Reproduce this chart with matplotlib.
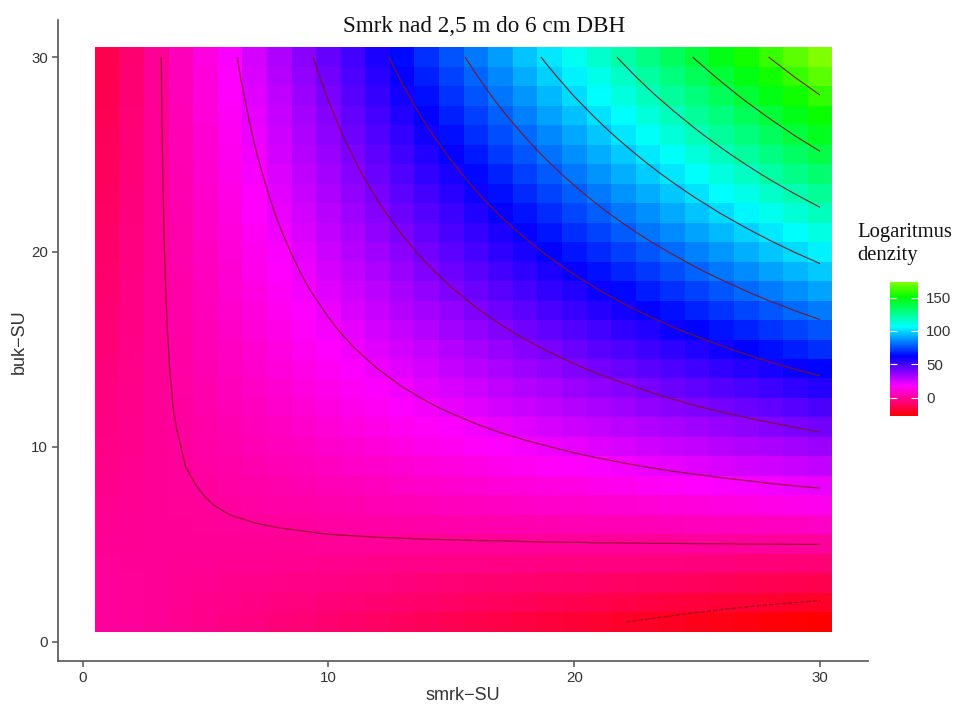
import numpy as np
import matplotlib
matplotlib.use("Agg")
import matplotlib.pyplot as plt
from matplotlib.colors import LinearSegmentedColormap

smrk = list(range(1, 31))
buk = list(range(1, 31))

# logaritmus denzity, rows = buk 1..30, columns = smrk 1..30
z_rows = [
    [-0.1, -0.3, -1.3, -2.3, -3.3, -4.2, -5.2, -6.2, -7.2, -8.1, -9.1, -10.1, -11.1, -12.0, -13.0, -14.0, -15.0, -16.0, -16.9, -17.9, -18.9, -19.9, -20.8, -21.8, -22.8, -23.8, -24.7, -25.7, -26.7, -27.7],
    [-0.2, -0.6, -1.3, -2.0, -2.7, -3.5, -4.2, -4.9, -5.6, -6.3, -7.1, -7.8, -8.5, -9.2, -9.9, -10.7, -11.4, -12.1, -12.8, -13.5, -14.3, -15.0, -15.7, -16.4, -17.1, -17.9, -18.6, -19.3, -20.0, -20.7],
    [-0.4, -0.8, -1.3, -1.8, -2.2, -2.7, -3.2, -3.6, -4.1, -4.5, -5.0, -5.5, -5.9, -6.4, -6.9, -7.3, -7.8, -8.2, -8.7, -9.2, -9.6, -10.1, -10.6, -11.0, -11.5, -12.0, -12.4, -12.9, -13.3, -13.8],
    [-0.9, -1.1, -1.3, -1.5, -1.7, -1.9, -2.1, -2.3, -2.5, -2.7, -2.9, -3.2, -3.4, -3.6, -3.8, -4.0, -4.2, -4.4, -4.6, -4.8, -5.0, -5.2, -5.4, -5.6, -5.8, -6.0, -6.2, -6.4, -6.7, -6.9],
    [-1.4, -1.4, -1.3, -1.2, -1.2, -1.1, -1.1, -1.0, -1.0, -0.9, -0.9, -0.8, -0.8, -0.7, -0.7, -0.6, -0.6, -0.5, -0.4, -0.4, -0.3, -0.3, -0.2, -0.2, -0.1, -0.1, 0.0, 0.0, 0.1, 0.1],
    [-1.9, -1.6, -1.3, -1.0, -0.7, -0.4, -0.1, 0.2, 0.5, 0.9, 1.2, 1.5, 1.8, 2.1, 2.4, 2.7, 3.0, 3.3, 3.6, 3.9, 4.2, 4.5, 4.9, 5.2, 5.5, 5.8, 6.1, 6.4, 6.7, 7.0],
    [-2.4, -1.9, -1.3, -0.7, -0.2, 0.4, 1.0, 1.5, 2.1, 2.7, 3.2, 3.8, 4.4, 4.9, 5.5, 6.0, 6.6, 7.2, 7.7, 8.3, 8.9, 9.4, 10.0, 10.6, 11.1, 11.7, 12.3, 12.8, 13.4, 14.0],
    [-2.9, -2.1, -1.3, -0.5, 0.3, 1.2, 2.0, 2.8, 3.6, 4.5, 5.3, 6.1, 6.9, 7.7, 8.6, 9.4, 10.2, 11.0, 11.9, 12.7, 13.5, 14.3, 15.2, 16.0, 16.8, 17.6, 18.4, 19.3, 20.1, 20.9],
    [-3.5, -2.4, -1.3, -0.2, 0.9, 1.9, 3.0, 4.1, 5.2, 6.3, 7.3, 8.4, 9.5, 10.6, 11.6, 12.7, 13.8, 14.9, 16.0, 17.0, 18.1, 19.2, 20.3, 21.4, 22.4, 23.5, 24.6, 25.7, 26.8, 27.8],
    [-4.0, -2.6, -1.3, 0.0, 1.4, 2.7, 4.0, 5.4, 6.7, 8.1, 9.4, 10.7, 12.1, 13.4, 14.7, 16.1, 17.4, 18.7, 20.0, 21.4, 22.7, 24.0, 25.4, 26.7, 28.0, 29.4, 30.7, 32.1, 33.4, 34.8],
    [-4.5, -2.9, -1.3, 0.3, 1.9, 3.5, 5.1, 6.7, 8.3, 9.9, 11.4, 13.0, 14.6, 16.2, 17.8, 19.4, 21.0, 22.6, 24.2, 25.8, 27.4, 29.0, 30.5, 32.1, 33.7, 35.3, 36.9, 38.5, 40.1, 41.7],
    [-5.0, -3.2, -1.3, 0.6, 2.4, 4.3, 6.1, 8.0, 9.8, 11.7, 13.5, 15.4, 17.2, 19.1, 20.9, 22.8, 24.6, 26.5, 28.3, 30.2, 32.0, 33.9, 35.8, 37.6, 39.5, 41.3, 43.2, 45.0, 46.9, 48.7],
    [-5.5, -3.4, -1.3, 0.8, 2.9, 5.0, 7.1, 9.2, 11.3, 13.5, 15.6, 17.7, 19.8, 21.9, 24.0, 26.1, 28.2, 30.3, 32.4, 34.5, 36.6, 38.7, 40.8, 43.0, 45.1, 47.2, 49.3, 51.4, 53.5, 55.6],
    [-6.0, -3.7, -1.3, 1.1, 3.4, 5.8, 8.2, 10.5, 12.9, 15.2, 17.6, 20.0, 22.4, 24.7, 27.1, 29.5, 31.8, 34.2, 36.6, 38.9, 41.3, 43.6, 46.0, 48.4, 50.7, 53.1, 55.5, 57.9, 60.2, 62.5],
    [-6.5, -3.9, -1.3, 1.3, 3.9, 6.6, 9.2, 11.8, 14.4, 17.0, 19.7, 22.3, 24.9, 27.5, 30.2, 32.8, 35.4, 38.0, 40.6, 43.2, 45.9, 48.5, 51.1, 53.7, 56.3, 59.0, 61.6, 64.2, 66.8, 69.5],
    [-7.1, -4.2, -1.3, 1.6, 4.5, 7.3, 10.2, 13.1, 16.0, 18.9, 21.7, 24.6, 27.5, 30.4, 33.3, 36.1, 39.0, 41.9, 44.8, 47.7, 50.5, 53.4, 56.3, 59.2, 62.0, 64.9, 67.8, 70.7, 73.6, 76.4],
    [-7.6, -4.4, -1.3, 1.8, 5.0, 8.1, 11.2, 14.4, 17.5, 20.6, 23.8, 26.9, 30.1, 33.2, 36.3, 39.5, 42.6, 45.7, 48.9, 52.0, 55.1, 58.3, 61.4, 64.5, 67.7, 70.8, 74.0, 77.1, 80.2, 83.3],
    [-8.1, -4.7, -1.3, 2.1, 5.5, 8.9, 12.3, 15.7, 19.1, 22.4, 25.8, 29.2, 32.6, 36.0, 39.4, 42.8, 46.2, 49.6, 53.0, 56.4, 59.8, 63.1, 66.5, 69.9, 73.3, 76.7, 80.1, 83.5, 86.9, 90.3],
    [-8.6, -4.9, -1.3, 2.3, 6.0, 9.6, 13.3, 16.9, 20.6, 24.2, 27.9, 31.5, 35.2, 38.8, 42.5, 46.1, 49.8, 53.4, 57.1, 60.7, 64.4, 68.0, 71.7, 75.3, 79.0, 82.6, 86.3, 89.9, 93.6, 97.2],
    [-9.1, -5.2, -1.3, 2.6, 6.5, 10.4, 14.3, 18.2, 22.1, 26.0, 30.0, 33.9, 37.8, 41.7, 45.6, 49.5, 53.4, 57.3, 61.2, 65.1, 69.0, 72.9, 76.8, 80.7, 84.6, 88.5, 92.4, 96.4, 100.3, 104.2],
    [-9.6, -5.5, -1.3, 2.9, 7.0, 11.2, 15.4, 19.5, 23.7, 27.8, 32.0, 36.2, 40.3, 44.5, 48.7, 52.8, 57.0, 61.1, 65.3, 69.5, 73.6, 77.8, 82.0, 86.1, 90.3, 94.4, 98.6, 102.8, 106.9, 111.1],
    [-10.1, -5.7, -1.3, 3.1, 7.5, 12.0, 16.4, 20.8, 25.2, 29.6, 34.1, 38.5, 42.9, 47.3, 51.7, 56.2, 60.6, 65.0, 69.4, 73.8, 78.3, 82.7, 87.1, 91.5, 95.9, 100.4, 104.8, 109.2, 113.6, 118.0],
    [-10.7, -6.0, -1.3, 3.4, 8.1, 12.7, 17.4, 22.1, 26.8, 31.4, 36.1, 40.8, 45.5, 50.1, 54.8, 59.5, 64.2, 68.9, 73.5, 78.2, 82.9, 87.6, 92.2, 96.9, 101.6, 106.3, 110.9, 115.6, 120.3, 125.0],
    [-11.2, -6.2, -1.3, 3.6, 8.6, 13.5, 18.4, 23.4, 28.3, 33.2, 38.2, 43.1, 48.0, 53.0, 57.9, 62.8, 67.8, 72.7, 77.6, 82.6, 87.5, 92.4, 97.4, 102.3, 107.2, 112.2, 117.1, 122.1, 127.0, 131.9],
    [-11.7, -6.5, -1.3, 3.9, 9.1, 14.3, 19.5, 24.7, 29.8, 35.0, 40.2, 45.4, 50.6, 55.8, 61.0, 66.2, 71.4, 76.6, 81.8, 87.0, 92.1, 97.3, 102.5, 107.7, 112.9, 118.1, 123.3, 128.5, 133.7, 138.9],
    [-12.2, -6.7, -1.3, 4.1, 9.6, 15.0, 20.5, 25.9, 31.4, 36.8, 42.3, 47.7, 53.2, 58.6, 64.1, 69.5, 75.0, 80.4, 85.9, 91.3, 96.8, 102.2, 107.7, 113.1, 118.6, 124.0, 129.5, 134.9, 140.4, 145.8],
    [-12.7, -7.0, -1.3, 4.4, 10.1, 15.8, 21.5, 27.2, 32.9, 38.6, 44.3, 50.0, 55.8, 61.5, 67.2, 72.9, 78.6, 84.3, 90.0, 95.7, 101.4, 107.1, 112.8, 118.5, 124.2, 129.9, 135.6, 141.3, 147.0, 152.7],
    [-13.2, -7.3, -1.3, 4.7, 10.6, 16.6, 22.5, 28.5, 34.5, 40.4, 46.4, 52.4, 58.3, 64.3, 70.2, 76.2, 82.2, 88.1, 94.1, 100.1, 106.0, 112.0, 118.0, 123.9, 129.9, 135.8, 141.8, 147.8, 153.7, 159.7],
    [-13.7, -7.5, -1.3, 4.9, 11.1, 17.4, 23.6, 29.8, 36.0, 42.2, 48.5, 54.7, 60.9, 67.1, 73.3, 79.5, 85.8, 92.0, 98.2, 104.4, 110.6, 116.9, 123.1, 129.3, 135.5, 141.7, 148.0, 154.2, 160.4, 166.6],
    [-14.3, -7.8, -1.3, 5.2, 11.7, 18.1, 24.6, 31.1, 37.6, 44.0, 50.5, 57.0, 63.5, 69.9, 76.4, 82.9, 89.4, 95.8, 102.3, 108.8, 115.3, 121.7, 128.2, 134.7, 141.2, 147.6, 154.1, 160.6, 167.1, 173.6],
]
contour_levels = [-20, 0, 20, 40, 60, 80, 100, 120, 140, 160]
axis_ticks = [0, 10, 20, 30]
legend_ticks = [0, 50, 100, 150]

W, H = 956, 704
grey = '#555555'
label_col = '#333333'

plt.rcParams['font.family'] = ['Liberation Sans', 'DejaVu Sans']

# duha od cervene pres fialovou a modrou do zelene
cmap = LinearSegmentedColormap.from_list(
    'duha', [(0, '#ff0000'), (2 / 9, '#ff00ff'), (4 / 9, '#0000ff'),
             (6 / 9, '#00ffff'), (8 / 9, '#00ff00'), (1, '#80ff00')], N=512)

fig = plt.figure(figsize=(W / 100, H / 100), dpi=100)
ax = fig.add_axes([58 / W, 1 - 661 / H, 810 / W, 641 / H])

z = np.array(z_rows)
mesh = ax.pcolormesh(smrk, buk, z, cmap=cmap, shading='nearest', linewidth=0, rasterized=True)
ax.contour(smrk, buk, z, levels=contour_levels, colors='#85101c', linewidths=0.85, alpha=0.85)

ax.set_xlim(-1, 31.95)
ax.set_ylim(-1, 31.9)
ax.set_xticks(axis_ticks)
ax.set_yticks(axis_ticks)
ax.tick_params(length=4.3, width=1.1, color=grey, labelsize=10.8, labelcolor=label_col, pad=3)
for side in ['top', 'right']:
    ax.spines[side].set_visible(False)
for side in ['left', 'bottom']:
    ax.spines[side].set_color(grey)
    ax.spines[side].set_linewidth(1.2)

fig.text(463 / W, 1 - 695 / H, 'smrk\u2212SU', ha='center', va='center', fontsize=13, color=label_col)
fig.text(19 / W, 1 - 342 / H, 'buk\u2212SU', ha='center', va='center', rotation=90, fontsize=13, color=label_col)
fig.text(484 / W, 1 - 27 / H, 'Smrk nad 2,5 m do 6 cm DBH', ha='center', va='center',
         fontsize=16.7, family='Liberation Serif', color='#111111')
fig.text(857 / W, 1 - 232 / H, 'Logaritmus', ha='left', va='center', fontsize=14.9,
         family='Liberation Serif', color='#111111')
fig.text(857 / W, 1 - 255 / H, 'denzity', ha='left', va='center', fontsize=14.9,
         family='Liberation Serif', color='#111111')

cax = fig.add_axes([890 / W, 1 - 416 / H, 28 / W, 134 / H])
cb = fig.colorbar(mesh, cax=cax)
cb.set_ticks(legend_ticks)
cb.outline.set_visible(False)
cax.tick_params(direction='in', length=5, width=0.8, color='white', left=True, right=True,
                labelsize=10.8, labelcolor=label_col, pad=6)

fig.savefig('out.png', dpi=100)
